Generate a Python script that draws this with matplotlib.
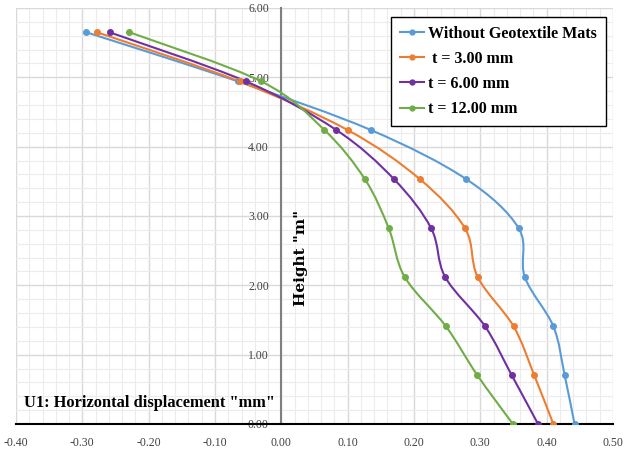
import numpy as np
import matplotlib
matplotlib.use('Agg')
import matplotlib.pyplot as plt
from matplotlib.path import Path
from matplotlib.patches import PathPatch
from matplotlib.ticker import MultipleLocator, FormatStrFormatter

heights = [0.00, 0.71, 1.41, 2.12, 2.82, 3.53, 4.24, 4.94, 5.65]
u_without = [0.442, 0.427, 0.410, 0.367, 0.358, 0.279, 0.135, -0.065, -0.294]
u_t3 = [0.410, 0.381, 0.350, 0.296, 0.277, 0.209, 0.100, -0.063, -0.278]
u_t6 = [0.387, 0.347, 0.307, 0.247, 0.226, 0.170, 0.083, -0.053, -0.259]
u_t12 = [0.349, 0.295, 0.248, 0.186, 0.162, 0.126, 0.065, -0.030, -0.229]

labels = ['Without Geotextile Mats', ' t = 3.00 mm', 't = 6.00 mm', 't = 12.00 mm']
colors = ['#5b9bd5', '#ed7d31', '#7030a0', '#70ad47']
series = [u_without, u_t3, u_t6, u_t12]


def smooth_path(x, y):
    # excel style smoothed line: catmull-rom as cubic bezier segments
    p = np.column_stack([x, y])
    verts = [p[0]]
    codes = [Path.MOVETO]
    n = len(p)
    for i in range(n - 1):
        p0 = p[i - 1] if i > 0 else p[i]
        p1, p2 = p[i], p[i + 1]
        p3 = p[i + 2] if i + 2 < n else p[i + 1]
        c1 = p1 + (p2 - p0) / 6.0
        c2 = p2 - (p3 - p1) / 6.0
        verts += [c1, c2, p2]
        codes += [Path.CURVE4] * 3
    return Path(verts, codes)


fig = plt.figure(figsize=(6.24, 4.53), dpi=100)
ax = fig.add_axes([16 / 624, 29 / 453, 597 / 624, 416 / 453])

for xs, c, lab in zip(series, colors, labels):
    ax.add_patch(PathPatch(smooth_path(xs, heights), facecolor='none',
                           edgecolor=c, lw=1.5, zorder=3))
    ax.plot(xs, heights, ls='none', marker='o', ms=4, color=c, zorder=4)
    ax.plot([], [], color=c, lw=1.5, marker='o', ms=3.5, label=lab)

ax.set_xlim(-0.40, 0.50)
ax.set_ylim(0, 6)
ax.xaxis.set_major_locator(MultipleLocator(0.1))
ax.xaxis.set_minor_locator(MultipleLocator(0.02))
ax.yaxis.set_major_locator(MultipleLocator(1))
ax.yaxis.set_minor_locator(MultipleLocator(0.2))
ax.xaxis.set_major_formatter(FormatStrFormatter('%.2f'))
ax.yaxis.set_major_formatter(FormatStrFormatter('%.2f'))

ax.grid(which='major', color='#d9d9d9', lw=1.0, zorder=0)
ax.grid(which='minor', color='#ececec', lw=0.8, zorder=0)
ax.set_axisbelow(True)

ax.spines['top'].set_visible(False)
ax.spines['right'].set_visible(False)
ax.spines['left'].set_position(('data', 0))
ax.spines['left'].set_color('#808080')
ax.spines['left'].set_linewidth(1.5)
ax.spines['bottom'].set_color('black')
ax.spines['bottom'].set_linewidth(1.5)

ax.tick_params(which='both', length=0)
ax.tick_params(axis='x', pad=9, labelsize=8.5, labelcolor='#404040')
ax.tick_params(axis='y', pad=9, labelsize=8.5, labelcolor='#404040')
for t in ax.get_xticklabels() + ax.get_yticklabels():
    t.set_fontfamily('Liberation Serif')

ax.text(0.013, 0.05, 'U1: Horizontal displacement "mm"', transform=ax.transAxes,
        fontsize=11.8, fontweight='bold', family='Liberation Serif', va='center', ha='left')
ax.text(0.029, 2.40, 'Height "m"', rotation=90, fontsize=11, fontweight='bold',
        family='DejaVu Serif', va='center', ha='center')

leg = ax.legend(loc='upper right', bbox_to_anchor=(0.988, 0.979), borderaxespad=0,
                frameon=True, fancybox=False, edgecolor='black', framealpha=1,
                handlelength=1.5, handletextpad=0.3, labelspacing=0.58, borderpad=0.55,
                prop={'family': 'Liberation Serif', 'weight': 'bold', 'size': 11.5})
leg.get_frame().set_linewidth(1.0)

fig.savefig('out.png', dpi=100)
